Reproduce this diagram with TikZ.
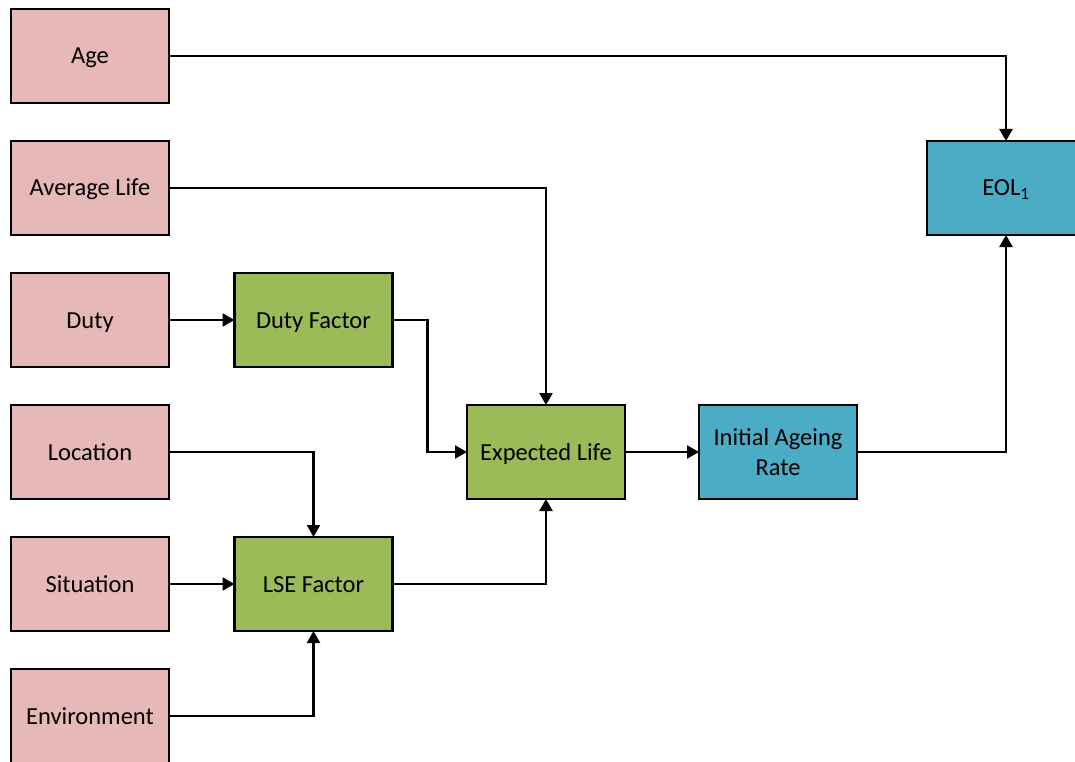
\documentclass[tikz,border=0pt]{standalone}
\usepackage{fontspec}
\setmainfont{Carlito}
\usetikzlibrary{arrows.meta}
\definecolor{inpink}{HTML}{E6B9B8}
\definecolor{facgreen}{HTML}{9BBB59}
\definecolor{outblue}{HTML}{4BACC6}
\tikzset{
  box/.style={draw=black, line width=2.2pt, minimum width=158pt, minimum height=94pt, inner sep=0pt, outer sep=0pt, font=\fontsize{24.5}{30}\selectfont},
  one/.style={text height=20pt, text depth=4pt},
  inbox/.style={box, one, fill=inpink},
  facbox/.style={box, one, fill=facgreen},
  outbox/.style={box, fill=outblue},
  conn/.style={line width=2.2pt, -{Triangle[width=13pt,length=12pt]}}
}
\begin{document}
\begin{tikzpicture}[x=1pt,y=-1pt]
\useasboundingbox (0,0) rectangle (1075,762);
\node[inbox] (age) at (90,56) {Age};
\node[inbox] (avg) at (90,188) {Average Life};
\node[inbox] (duty) at (90,320) {Duty};
\node[inbox] (loc) at (90,452) {Location};
\node[inbox] (sit) at (90,584) {Situation};
\node[inbox] (env) at (90,716) {Environment};
\node[facbox] (df) at (313.5,320) {Duty Factor};
\node[facbox] (lse) at (313.5,584) {LSE Factor};
\node[facbox] (el) at (546,452) {Expected Life};
\node[outbox, align=center] (iar) at (778,452) {Initial Ageing\\Rate};
\node[outbox, one] (eol) at (1006,188) {EOL\textsubscript{1}};
\draw[conn] (age.east) -| (eol.north);
\draw[conn] (avg.east) -| (el.north);
\draw[conn] (duty.east) -- (df.west);
\draw[conn] (df.east) -- ++(35,0) |- (el.west);
\draw[conn] (loc.east) -| (lse.north);
\draw[conn] (sit.east) -- (lse.west);
\draw[conn] (env.east) -| (lse.south);
\draw[conn] (lse.east) -| (el.south);
\draw[conn] (el.east) -- (iar.west);
\draw[conn] (iar.east) -| (eol.south);
\end{tikzpicture}
\end{document}
